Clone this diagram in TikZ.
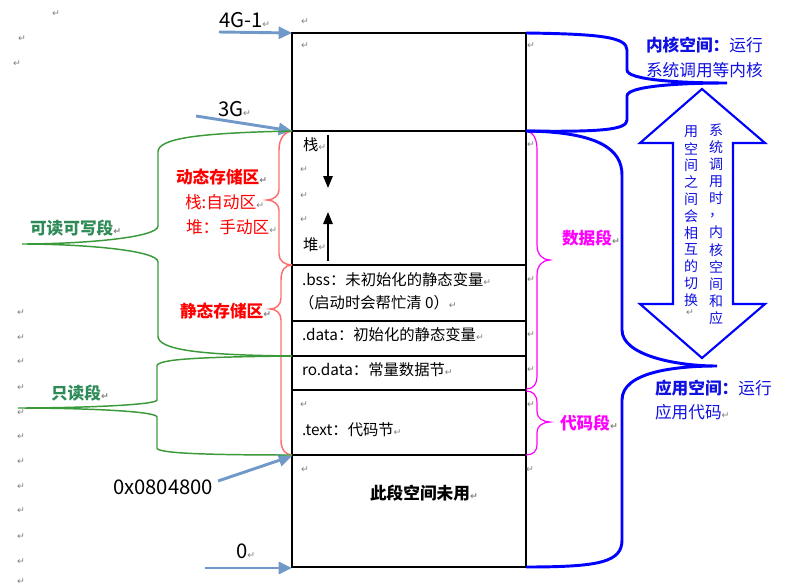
\documentclass[tikz,border=0pt]{standalone}
\usepackage{fontspec}
\setmainfont{Noto Sans CJK SC}
\newfontfamily\dvfont{DejaVu Sans}
\usetikzlibrary{arrows.meta}
\definecolor{addrc}{HTML}{7099C9}
\definecolor{grn}{HTML}{3A9A3A}
\definecolor{grntxt}{HTML}{2E8B57}
\definecolor{redbr}{HTML}{FF6E6E}
\definecolor{redtxt}{HTML}{FF0000}
\definecolor{mag}{HTML}{FF00FF}
\definecolor{blu}{HTML}{0000FF}
\definecolor{blutxt}{HTML}{1010E0}
\newcommand\retmark{{\dvfont\fontsize{7}{7}\selectfont\color{gray}↵}}
\begin{document}
\begin{tikzpicture}[x=0.75pt,y=-0.75pt,
  every node/.style={inner sep=0pt,outer sep=0pt},
  txt/.style={anchor=west,font=\fontsize{11.5}{13}\selectfont},
  lab/.style={anchor=west,font=\fontsize{12.5}{15}\selectfont},
  addrlab/.style={anchor=west,font=\fontsize{15.2}{18}\selectfont},
  rmk/.style={font=\dvfont\fontsize{7}{7}\selectfont,text=gray},
  vch/.style={font=\fontsize{10.5}{12}\selectfont,text=blutxt},
  addrarrow/.style={draw=addrc,line width=2.2pt,-{Triangle[length=10pt,width=9pt]}},
  memline/.style={draw=black,line width=0.9pt},
  stackarrow/.style={draw=black,line width=1.5pt,-{Triangle[length=9pt,width=7pt]}},
  gbrace/.style={draw=grn,line width=1.1pt},
  rbrace/.style={draw=redbr,line width=1.1pt},
  mbrace/.style={draw=mag,line width=0.9pt},
  bbrace/.style={draw=blu,line width=2.2pt},
]
\useasboundingbox (0,0) rectangle (806,588);

% memory box
\coordinate (boxTL) at (292,33);
\coordinate (boxBR) at (526,567);
\draw[memline] (boxTL) rectangle (boxBR);
\foreach \yy [count=\i] in {131,265,321,356,390,455}
  \draw[memline] (292,\yy) coordinate (L\i) -- (526,\yy) coordinate (R\i);

% address labels and arrows
\node[addrlab] (t4g) at (219,20) {4G-1\retmark};
\node[addrlab] (t3g) at (218,109) {3G\retmark};
\node[addrlab] (taddr) at (113,487) {0x0804800};
\node[addrlab] (tzero) at (236,551) {0\retmark};
\coordinate (a1s) at (219,32); \coordinate (a1e) at (292,33);
\coordinate (a2s) at (196,116); \coordinate (a2e) at (292,131);
\coordinate (a3s) at (218,481); \coordinate (a3e) at (292,456);
\coordinate (a4s) at (205,568); \coordinate (a4e) at (292,568);
\draw[addrarrow] (a1s) -- (a1e);
\draw[addrarrow] (a2s) -- (a2e);
\draw[addrarrow] (a3s) -- (a3e);
\draw[addrarrow] (a4s) -- (a4e);

% box contents
\node[txt] (zhan) at (303,145) {栈\retmark};
\node[txt] (dui) at (303,245) {堆\retmark};
\coordinate (sd1) at (328,135); \coordinate (sd2) at (328,188);
\coordinate (su1) at (328,261); \coordinate (su2) at (328,212);
\draw[stackarrow] (sd1) -- (sd2);
\draw[stackarrow] (su1) -- (su2);
\node[txt] (bss) at (302,280) {.bss：未初始化的静态变量\retmark};
\node[txt] (bss2) at (299,303) {（启动时会帮忙清 0）\retmark};
\node[txt] (data) at (302,335) {.data：初始化的静态变量\retmark};
\node[txt] (rodata) at (302,370) {ro.data：常量数据节\retmark};
\node[txt] (text) at (302,430) {.text：代码节\retmark};
\node[txt,font=\fontsize{12.5}{15}\selectfont\bfseries] (unused) at (370,493) {此段空间未用\retmark};

% red braces (dynamic / static storage)
\draw[rbrace] (L1) .. controls (284,132) and (279,139) .. (279,150) -- (279,190)
  .. controls (279,196) and (273,200) .. (267,200)
  .. controls (273,200) and (279,204) .. (279,210) -- (279,254)
  .. controls (279,261) and (285,265) .. (L2);
\draw[rbrace] (L2) .. controls (285,265) and (281,270) .. (281,280) -- (281,298)
  .. controls (281,305) and (276,309) .. (270,309)
  .. controls (276,309) and (281,313) .. (281,320) -- (281,440)
  .. controls (281,450) and (286,455) .. (L6);
\node[lab,text=redtxt,font=\fontsize{12.5}{15}\selectfont\bfseries] (dyn) at (176,177) {动态存储区\retmark};
\node[lab,text=redtxt] (zhan2) at (185,202) {栈:自动区\retmark};
\node[lab,text=redtxt] (dui2) at (186,227) {堆：手动区\retmark};
\node[lab,text=redtxt,font=\fontsize{12.5}{15}\selectfont\bfseries] (stat) at (180,311) {静态存储区\retmark};

% green braces
\draw[gbrace] (L1) .. controls (200,133) and (158,138) .. (158,152) -- (158,226)
  .. controls (158,238) and (80,244) .. (22,244)
  .. controls (80,244) and (158,250) .. (158,262) -- (158,336)
  .. controls (158,350) and (200,355) .. (L4);
\draw[gbrace] (L4) .. controls (200,357) and (157,359) .. (157,366) -- (157,400)
  .. controls (157,405) and (80,408) .. (18,408)
  .. controls (80,408) and (157,411) .. (157,417) -- (157,448)
  .. controls (157,453) and (200,455) .. (L6);
\node[lab,text=grntxt,font=\fontsize{12.5}{15}\selectfont\bfseries] (rw) at (30,228) {可读可写段\retmark};
\node[lab,text=grntxt,font=\fontsize{12.5}{15}\selectfont\bfseries] (ro) at (51,393) {只读段\retmark};

% magenta braces
\draw[mbrace] (R1) .. controls (533,132) and (537,138) .. (537,150) -- (537,245)
  .. controls (537,255) and (543,260) .. (550,260)
  .. controls (543,260) and (537,265) .. (537,275) -- (537,375)
  .. controls (537,385) and (533,389) .. (526,389);
\draw[mbrace] (526,391) .. controls (533,391) and (537,395) .. (537,403) -- (537,412)
  .. controls (537,418) and (543,422) .. (550,422)
  .. controls (543,422) and (537,426) .. (537,432) -- (537,445)
  .. controls (537,451) and (533,455) .. (R6);
\node[lab,text=mag,font=\fontsize{12.5}{15}\selectfont\bfseries] (dataseg) at (562,238) {数据段\retmark};
\node[lab,text=mag,font=\fontsize{12.5}{15}\selectfont\bfseries] (codeseg) at (560,423) {代码段\retmark};

% blue braces
\draw[bbrace] (boxTL -| boxBR) .. controls (600,34) and (627,37) .. (627,50) -- (627,70)
  .. controls (627,80) and (680,83) .. (727,83)
  .. controls (680,83) and (627,86) .. (627,96) -- (627,120)
  .. controls (627,130) and (600,132) .. (R1);
\draw[bbrace] (R1) .. controls (600,132) and (622,150) .. (622,175) -- (622,330)
  .. controls (622,355) and (675,366) .. (717,366)
  .. controls (675,366) and (622,372) .. (622,400) -- (622,540)
  .. controls (622,562) and (600,567) .. (boxBR);
\node[lab,text=blutxt] (kern1) at (646,45) {\textbf{内核空间：}运行};
\node[lab,text=blutxt] (kern2) at (646,70) {系统调用等内核};
\node[lab,text=blutxt] (user1) at (655,388) {\textbf{应用空间：}运行};
\node[lab,text=blutxt] (user2) at (655,412) {应用代码\retmark};

% double arrow
\draw[draw=blu,line width=1.6pt,fill=white,line join=miter]
  (702,89) -- (765,143) -- (733,143) -- (733,304) -- (765,304) -- (702,358)
  -- (640,304) -- (673,304) -- (673,143) -- (640,143) -- cycle;
\foreach \c [count=\i] in {系,统,调,用,时,，,内,核,空,间,和,应}
  \node[vch] (vr\i) at (716,{130+17.1*(\i-1)}) {\c};
\foreach \c [count=\i] in {用,空,间,之,间,会,相,互,的,切,换}
  \node[vch] (vl\i) at (691,{132+16.8*(\i-1)}) {\c};
\node[rmk] (vlr) at (690,313) {↵};

% paragraph marks
\foreach \xx/\yy [count=\i] in {56/14,22/39,17/64,21/313,21/338,21/362,21/388,21/413,21/437,21/462,21/487,21/511,21/537,21/562,21/582,
  305/22,305/46,531/46,531/145,304/170,304/196,304/220,531/280,531/335,531/370,304/405,531/405,305/470,530/470}
  \node[rmk] (pm\i) at (\xx,\yy) {↵};
\end{tikzpicture}
\end{document}
